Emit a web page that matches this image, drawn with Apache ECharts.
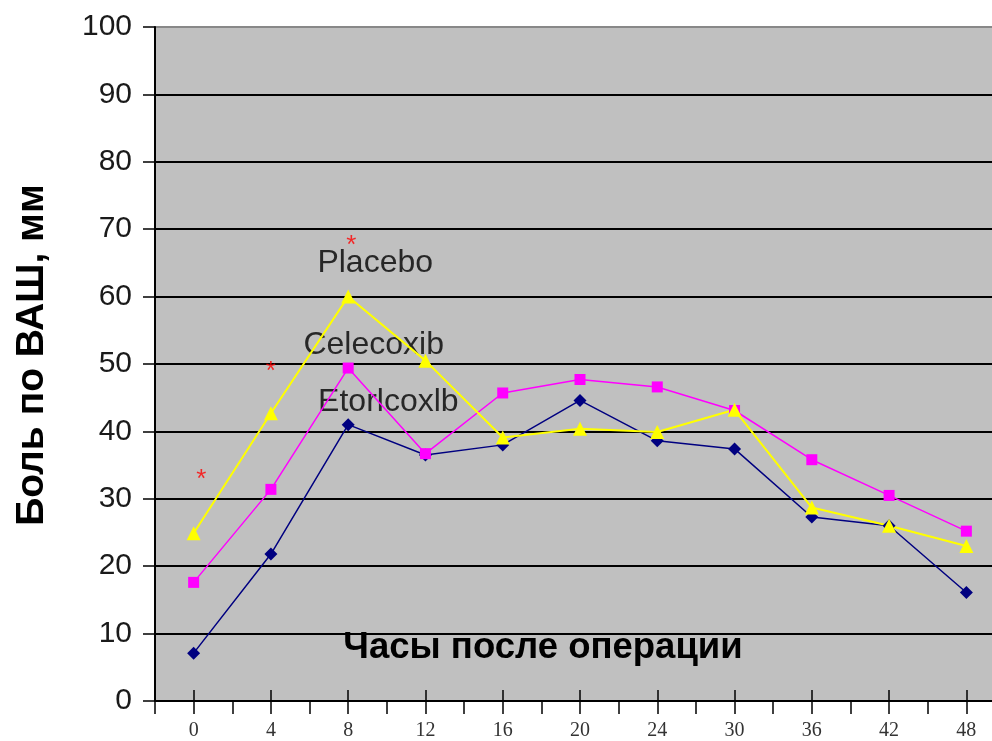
<!DOCTYPE html>
<html>
<head>
<meta charset="utf-8">
<script src="https://cdn.jsdelivr.net/npm/echarts@6/dist/echarts.min.js"></script>
<style>
  html, body { margin: 0; padding: 0; background: #fff; }
  #chart { width: 992px; height: 741px; }
</style>
</head>
<body>
<div id="chart"></div>
<script>
// часы после операции
var hours = ['0', '4', '8', '12', '16', '20', '24', '30', '36', '42', '48']
// боль по ВАШ, мм
var etoricoxib = [7.1, 21.8, 41.0, 36.5, 38.0, 44.6, 38.6, 37.4, 27.3, 26.0, 16.1]
var celecoxib = [17.6, 31.4, 49.4, 36.7, 45.7, 47.7, 46.6, 43.1, 35.8, 30.5, 25.2]
var placebo = [24.9, 42.7, 60.0, 50.5, 39.1, 40.4, 39.9, 43.2, 28.7, 26.0, 23.0]
// звёздочки (достоверность), x в долях шага категории
var starX = [0.1, 1.0, 2.04]
var starY = [33.9, 49.9, 68.5]
// подписи серий
var seriesNames = ['Placebo', 'Celecoxib', 'Etorlcoxlb']
var nameX = [2.35, 2.33, 2.52]
var nameY = [65.0, 52.8, 44.3]

var chart = echarts.init(document.getElementById('chart'))

var sans = "'Liberation Sans', Arial, sans-serif"

chart.setOption({
  animation: false,
  backgroundColor: '#fff',
  grid: {
    left: 155,
    top: 27,
    bottom: 40,
    right: -13,
    outerBoundsMode: 'none',
    containLabel: false,
    show: true,
    backgroundColor: '#c0c0c0',
    borderWidth: 0
  },
  xAxis: [
    {
      type: 'category',
      data: hours,
      position: 'bottom',
      axisLine: { onZero: false, lineStyle: { color: '#000', width: 2 } },
      axisTick: { show: true, alignWithLabel: true, length: 13, lineStyle: { color: '#000', width: 1.5 } },
      axisLabel: { fontFamily: "'Liberation Serif', 'Times New Roman', serif", fontSize: 20, color: '#333', margin: 20 },
      splitLine: { show: false }
    },
    {
      // короткие риски на границах категорий
      type: 'category',
      data: hours,
      position: 'bottom',
      axisLine: { show: false, onZero: false },
      axisTick: { show: true, length: 13, lineStyle: { color: '#000', width: 1.5 } },
      axisLabel: { show: false },
      splitLine: { show: false }
    },
    {
      // риски у подписей внутрь графика
      type: 'category',
      data: hours,
      position: 'bottom',
      axisLine: { show: false, onZero: false },
      axisTick: { show: true, alignWithLabel: true, inside: true, length: 11, lineStyle: { color: '#000', width: 1.5 } },
      axisLabel: { show: false },
      splitLine: { show: false }
    },
    {
      type: 'value',
      min: -0.5,
      max: 10.5,
      show: false
    }
  ],
  yAxis: {
    type: 'value',
    min: 0,
    max: 100,
    interval: 10,
    name: 'Боль по ВАШ, мм',
    nameLocation: 'middle',
    nameRotate: 90,
    nameGap: 103,
    nameTextStyle: { fontFamily: sans, fontWeight: 'bold', fontSize: 39, color: '#000', padding: [0, 0, 0, 18] },
    axisLine: { show: true, onZero: false, lineStyle: { color: '#000', width: 2 } },
    axisTick: { show: true, length: 12, lineStyle: { color: '#000', width: 1.5 } },
    axisLabel: { fontFamily: sans, fontSize: 30, color: '#1a1a1a', margin: 23 },
    splitLine: {
      show: true,
      lineStyle: {
        color: ['#000', '#000', '#000', '#000', '#000', '#000', '#000', '#000', '#000', '#000', '#888'],
        width: 2
      }
    }
  },
  graphic: [
    {
      type: 'text',
      x: 543,
      y: 648,
      style: {
        text: 'Часы после операции',
        fontFamily: sans,
        fontWeight: 'bold',
        fontSize: 36.5,
        fill: '#000',
        textAlign: 'center',
        textVerticalAlign: 'middle'
      }
    }
  ],
  series: [
    {
      name: 'Etorlcoxlb',
      type: 'line',
      xAxisIndex: 0,
      data: etoricoxib,
      symbol: 'diamond',
      symbolSize: 13,
      itemStyle: { color: '#000080' },
      lineStyle: { color: '#000080', width: 1.5 }
    },
    {
      name: 'Celecoxib',
      type: 'line',
      xAxisIndex: 0,
      data: celecoxib,
      symbol: 'rect',
      symbolSize: 11,
      itemStyle: { color: '#ff00ff' },
      lineStyle: { color: '#ff00ff', width: 1.5 }
    },
    {
      name: 'Placebo',
      type: 'line',
      xAxisIndex: 0,
      data: placebo,
      symbol: 'triangle',
      symbolSize: 14,
      itemStyle: { color: '#ffff00' },
      lineStyle: { color: '#ffff00', width: 2 }
    },
    {
      type: 'scatter',
      xAxisIndex: 3,
      symbolSize: 0,
      data: starX.map(function(x, i) { return [x, starY[i]] }),
      label: {
        show: true,
        position: 'inside',
        formatter: '*',
        fontFamily: sans,
        fontSize: 26,
        color: '#ff0000',
        offset: [0, 7]
      },
      z: 5
    },
    {
      type: 'scatter',
      xAxisIndex: 3,
      symbolSize: 0,
      data: nameX.map(function(x, i) { return { value: [x, nameY[i]], name: seriesNames[i] } }),
      label: {
        show: true,
        position: 'inside',
        formatter: '{b}',
        fontFamily: sans,
        fontSize: 32,
        color: '#000',
        textBorderWidth: 0
      },
      z: 1
    }
  ]
})
</script>
</body>
</html>
